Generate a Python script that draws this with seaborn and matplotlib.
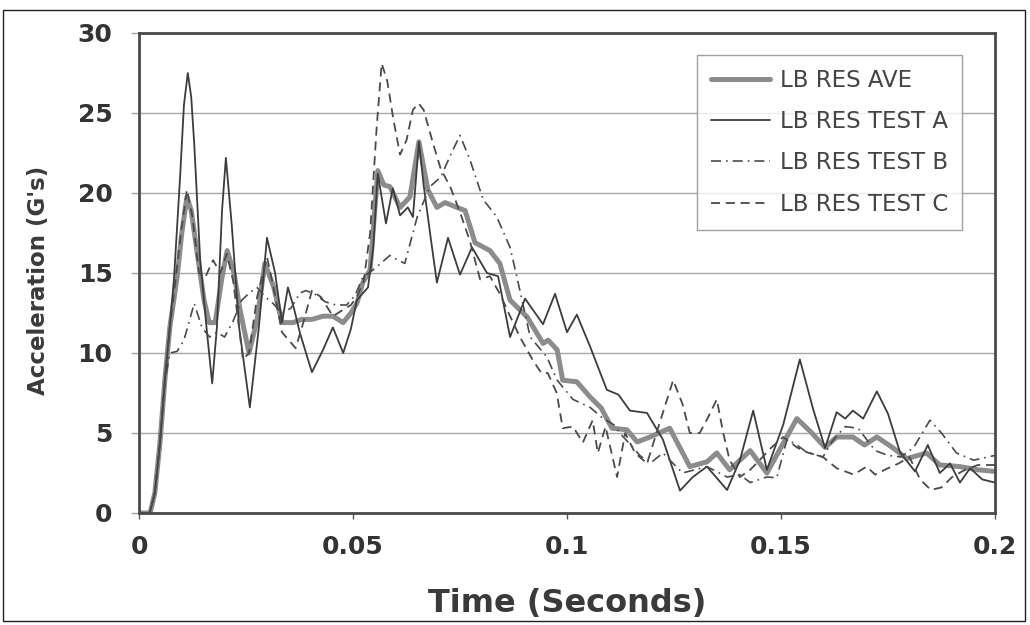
import matplotlib
matplotlib.use("Agg")
import matplotlib.pyplot as plt
from matplotlib.patches import Rectangle
import seaborn as sns
import pandas as pd

# ---- data (time in milliseconds, acceleration in G's) ----
t_ave = [0, 2.6, 3.7, 4.9, 6.1, 7.2, 8.9, 10.0, 11.2, 12.2, 13.6, 15.2, 16.4, 17.8, 19.4, 20.6,
         22.2, 23.6, 25.7, 27.6, 29.4, 31.5, 33.4, 36, 38, 40.4, 43, 45.3, 47.7, 49.5, 50.9,
         52.3, 54.0, 55.8, 57.2, 58.6, 61.0, 63.3, 65.4, 67.5, 69.6, 71.5, 74.3, 76.2, 78.5,
         82.0, 84.3, 86.7, 90.7, 94.4, 95.6, 97.7, 99.0, 102.3, 105.4, 108.0, 110.5, 114.0,
         116.4, 119.4, 124.0, 128.7, 132.7, 135.0, 138.0, 142.8, 146.7, 150, 153.7, 157,
         160.3, 163, 166.8, 169.5, 172.4, 176, 179.4, 184, 187.1, 191.8, 196, 200]
g_ave = [0, 0, 1.25, 4.4, 8.5, 11.6, 14.75, 17.5, 19.75, 18.9, 16.25, 13.3, 11.9, 11.9, 14.75, 16.4,
         15.0, 12.7, 10.0, 12.1, 15.6, 14.1, 11.9, 11.9, 12.1, 12.1, 12.3, 12.3, 11.9, 12.5, 13.1,
         14.4, 15.2, 21.4, 20.5, 20.4, 19.1, 19.75, 23.2, 20.2, 19.1, 19.4, 19.1, 18.9, 16.9,
         16.4, 15.6, 13.3, 12.25, 10.6, 10.8, 10.2, 8.3, 8.2, 7.25, 6.56, 5.3, 5.2,
         4.44, 4.75, 5.3, 2.9, 3.2, 3.75, 2.7, 3.9, 2.5, 4.1, 5.9, 5.06,
         4.1, 4.75, 4.75, 4.25, 4.75, 4.1, 3.4, 3.75, 3.0, 2.9, 2.7, 2.6]

t_a = [0, 2.5, 3.7, 4.9, 6.1, 7.2, 8.2, 9.6, 10.5, 11.4, 12.2, 12.9, 14.3, 15.9, 17.1, 18.2, 19.4,
       20.3, 21.7, 23.4, 25.9, 28.0, 29.9, 31.8, 33.4, 34.8, 36.2, 37.6, 40.4, 43.0, 45.3, 47.7,
       49.5, 50.9, 53.5, 54.7, 55.8, 57.7, 59.3, 61.0, 62.8, 64.0, 65.4, 66.5, 68.0, 69.6, 72.2,
       75.0, 77.8, 81.3, 83.9, 86.7, 90.2, 94.4, 97.2, 100.0, 102.3, 105.4, 109.3, 112.0, 114.7,
       118.7, 122.4, 126.4, 129.4, 132.7, 137.4, 140.4, 143.5, 146.7, 150.5, 154.4, 157.5,
       160.3, 163.0, 165.0, 166.8, 169.2, 172.4, 175.0, 177.8, 181.3, 184.3, 187.1, 189.5,
       191.8, 194.2, 197, 200]
g_a = [0, 0, 1.25, 4.4, 8.5, 11.6, 14.75, 21, 25.5, 27.5, 26, 23.1, 15.8, 11.25, 8.1, 11.6, 18.9,
       22.2, 17.9, 11.6, 6.6, 11.6, 17.2, 15, 11.9, 14.1, 12.8, 11.25, 8.8, 10.2, 11.6, 10.0,
       11.5, 13.3, 14.1, 16.5, 21.2, 18.1, 20.3, 18.6, 19.1, 18.5, 23.2, 20.5, 17.5, 14.4, 17.2,
       14.9, 16.6, 15.0, 14.8, 11.0, 13.4, 11.8, 13.7, 11.3, 12.4, 10.4, 7.7, 7.4, 6.4,
       6.25, 4.6, 1.4, 2.25, 2.9, 1.44, 3.3, 6.4, 2.7, 5.5, 9.6, 6.5,
       4.06, 6.3, 5.9, 6.4, 5.9, 7.6, 6.2, 3.8, 2.6, 4.25, 2.5, 3.1,
       1.9, 2.8, 2.1, 1.9]

t_b = [0, 2.5, 3.7, 4.9, 6.1, 7.2, 8.9, 10.5, 12.9, 14.7, 16.5, 18.2, 20.0, 22.0, 24.0, 26.0,
       27.6, 29.5, 31.3, 33.4, 35.5, 37.6, 39.0, 41.0, 43.5, 46.0, 48.5, 50.5, 52.3, 54.7, 56.5,
       58.6, 60.5, 62.1, 65.0, 68.0, 70.5, 73.0, 75.0, 77.3, 80.4, 83.6, 86.7, 88.3, 91.4, 95.3,
       97.7, 101.4, 105.4, 108, 111, 113, 115.4, 117, 119.4, 122.4, 127, 132.7, 137.4, 140.4,
       142.8, 146.7, 149, 151.4, 153.7, 156, 159.8, 162, 165, 168, 172, 175, 178, 181, 184.8,
       187.5, 191, 195, 200]
g_b = [0, 0, 1.25, 4.4, 8.3, 10.0, 10.1, 10.8, 13.1, 11.6, 11.0, 11.3, 11.0, 12.0, 13.3, 13.8,
       14.1, 13.5, 13.1, 12.5, 12.8, 13.75, 13.9, 13.7, 13.2, 13.0, 13.0, 13.6, 14.75, 15.2, 15.6,
       16.1, 15.8, 15.6, 18.5, 20.4, 21.0, 22.5, 23.6, 22.1, 19.6, 18.5, 16.6, 14.75, 11.0, 9.75,
       8.3, 7.1, 6.6, 6.0, 5.5, 4.8, 4.1, 3.6, 3.1, 3.75, 2.5, 2.9, 2.25, 2.4,
       1.9, 2.25, 2.2, 4.6, 4.25, 3.8, 3.5, 4.5, 5.4, 5.3, 3.9, 3.6, 3.5, 4.1, 5.8,
       5.0, 3.75, 3.3, 3.6]

t_c = [0, 2.5, 3.7, 4.9, 6.1, 7.2, 8.5, 9.8, 11.2, 12.5, 14.0, 15.5, 17.3, 19.0, 20.5, 22.0,
       24.3, 25.7, 27.6, 29.9, 31.5, 33.4, 35.0, 36.6, 38.5, 40.4, 42.5, 45.3, 47.7, 49.5, 50.9,
       52.5, 54.0, 55.5, 56.7, 58.0, 59.5, 61.0, 62.5, 64.0, 65.3, 66.5, 68.7, 70.5, 72.7, 75.0,
       77.3, 79.7, 82.0, 84.3, 86.7, 89.0, 92.0, 94.0, 95.5, 97.6, 99.0, 101.4, 103.7, 106.0,
       107.2, 109.0, 111.7, 113.6, 115.9, 118.7, 121.5, 124.8, 127, 128.7, 131, 133, 135, 136.5,
       138, 140.4, 142.8, 145, 147.4, 150.5, 153.7, 156, 159.8, 163, 167, 170, 172, 175, 177.5,
       180, 182.5, 185, 187.5, 190, 193, 196, 200]
g_c = [0, 0, 1.25, 4.4, 8.5, 11.6, 14.5, 17.5, 20.2, 18.5, 15.0, 14.75, 15.8, 15.0, 16.2, 14.5,
       9.6, 10.0, 13.5, 16.0, 14.0, 11.3, 10.8, 10.3, 12.0, 13.9, 13.5, 12.3, 12.7, 13.0, 13.5,
       14.5, 17.5, 24.0, 28.1, 27.0, 24.5, 22.4, 23.3, 25.2, 25.6, 25.2, 23.1, 21.5, 20.4, 18.8,
       17.0, 14.6, 14.8, 13.7, 12.3, 11.0, 9.56, 8.75, 8.75, 7.5, 5.3, 5.4, 4.4, 5.8,
       3.75, 5.4, 2.25, 5.0, 3.75, 3.1, 5.5, 8.3, 6.8, 5.0, 5.0, 6.0, 7.1, 5.0,
       3.3, 2.25, 2.7, 3.3, 4.0, 4.75, 4.1, 3.8, 3.5, 2.8, 2.4, 2.9, 2.4, 2.8, 3.1,
       3.5, 2.1, 1.44, 1.6, 2.25, 2.7, 3.0, 3.0]

labels = ["LB RES AVE", "LB RES TEST A", "LB RES TEST B", "LB RES TEST C"]
x_ticks = [0, 0.05, 0.1, 0.15, 0.2]
x_ticklabels = ["0", "0.05", "0.1", "0.15", "0.2"]
y_ticks = [0, 5, 10, 15, 20, 25, 30]

# ---- plot ----
sns.set_style("white")
plt.rcParams["font.family"] = ["DejaVu Sans"]

fig = plt.figure(figsize=(10.3, 6.25), dpi=100)
ax = fig.add_axes([139 / 1030, 1 - 513 / 625, (995 - 139) / 1030, (513 - 33) / 625])

series = [
    (t_ave, g_ave, labels[0], dict(color="#8c8c8c", lw=3.6, linestyle="-")),
    (t_a, g_a, labels[1], dict(color="#3c3c3c", lw=1.3, linestyle="-")),
    (t_b, g_b, labels[2], dict(color="#4a4a4a", lw=1.2, linestyle=(0, (6, 3, 1, 3)))),
    (t_c, g_c, labels[3], dict(color="#4a4a4a", lw=1.3, linestyle=(0, (5, 3.2)))),
]
for tt, gg, lab, st in series:
    df = pd.DataFrame({"Time": [v / 1000.0 for v in tt], "Accel": gg})
    sns.lineplot(data=df, x="Time", y="Accel", ax=ax, label=lab, estimator=None,
                 sort=False, **st)

ax.set_xlim(0, 0.2)
ax.set_ylim(0, 30)
ax.set_xticks(x_ticks)
ax.set_xticklabels(x_ticklabels)
ax.set_yticks(y_ticks)
ax.yaxis.grid(True, color="#a8a8a8", lw=1.0)
ax.xaxis.grid(False)
ax.set_axisbelow(True)
for s in ax.spines.values():
    s.set_visible(True)
    s.set_color("#4a4a4a")
    s.set_linewidth(2.0)
ax.tick_params(axis="y", which="major", direction="out", length=6, width=1.0,
               color="#a8a8a8", left=True, pad=13)
ax.tick_params(axis="x", which="major", direction="out", length=4, width=1.0,
               color="#555555", bottom=True, pad=11.5)
for lbl in ax.get_xticklabels() + ax.get_yticklabels():
    lbl.set_fontsize(18)
    lbl.set_fontweight("bold")
    lbl.set_color("#333333")

ax.set_xlabel("Time (Seconds)", fontsize=23, fontweight="bold", color="#3a3a3a")
ax.xaxis.set_label_coords(0.5, -0.157)
ax.set_ylabel("Acceleration (G's)", fontsize=16.5, fontweight="bold", color="#3a3a3a")
ax.yaxis.set_label_coords(-0.104, 0.485)

leg = ax.legend(loc="upper right", bbox_to_anchor=(0.961, 0.954), borderaxespad=0,
                frameon=True, fancybox=False, fontsize=16.5, handlelength=2.6,
                handletextpad=0.4, labelspacing=0.8, borderpad=0.6)
leg.get_frame().set_edgecolor("#888888")
leg.get_frame().set_linewidth(1.0)
for txt in leg.get_texts():
    txt.set_color("#444444")

# outer border of the figure
fig.patches.append(Rectangle((3 / 1030, 4 / 625), 1022 / 1030, 611 / 625,
                             transform=fig.transFigure, fill=False,
                             edgecolor="#222222", lw=1.0))

fig.savefig("out.png", dpi=100)
